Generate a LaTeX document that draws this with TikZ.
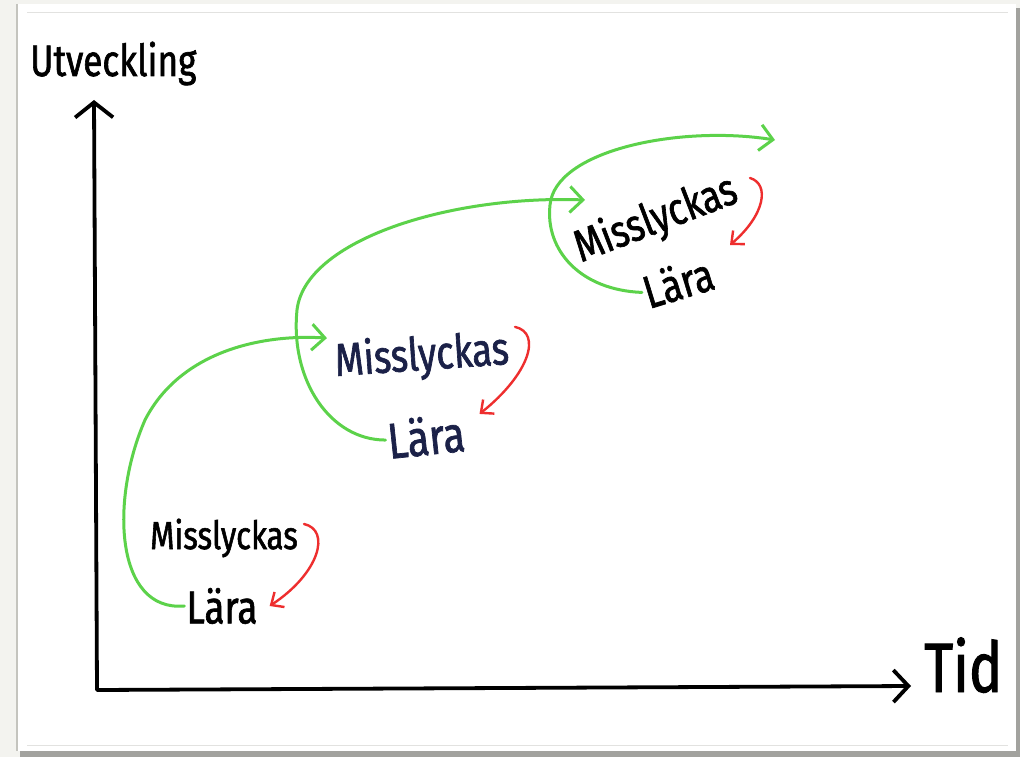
\documentclass[tikz,border=0pt]{standalone}
\usepackage{fontspec}
\setmainfont{Fira Sans}
\newfontfamily\hand[FakeBold=1.4,FakeStretch=0.8]{Fira Sans}
\usetikzlibrary{arrows.meta}
\definecolor{bgc}{HTML}{F3F3EF}
\definecolor{edgec}{HTML}{C4C4BE}
\definecolor{shadowc}{HTML}{A2A29E}
\definecolor{rulec}{HTML}{E2E2E0}
\definecolor{grn}{HTML}{5CD24A}
\definecolor{rd}{HTML}{EE2E2E}
\definecolor{navy}{HTML}{1B2148}
\tikzset{
  axisline/.style={line width=3.8pt, line cap=round, line join=round, black,
    {Straight Barb[length=15pt,width=38pt,line width=3.8pt]}-{Straight Barb[length=15pt,width=32pt,line width=3.8pt]}},
  growline/.style={line width=3pt, grn, line cap=round,
    -{Straight Barb[length=13pt,width=26pt,line width=3pt]}},
  failline/.style={line width=2.4pt, rd, line cap=round,
    -{Straight Barb[length=10pt,width=18pt,line width=2.4pt]}},
  word/.style={inner sep=0pt, font=\hand\fontsize{39}{42}\selectfont},
  lara/.style={inner sep=0pt, font=\hand\fontsize{46}{50}\selectfont},
  lbl/.style={inner sep=0pt, font=\hand}
}
\begin{document}
\begin{tikzpicture}[x=1pt,y=-1pt]
\useasboundingbox (0,0) rectangle (1020,757);
% frame
\fill[bgc] (0,0) rectangle (1020,757);
\fill[shadowc] (20,8) rectangle (1020,757);
\fill[white] (17,4) rectangle (1016,751);
\draw[edgec, line width=1.2pt] (17,4) -- (17,751);
\draw[rulec, line width=1pt] (27,13) -- (1008,13);
\draw[rulec, line width=1pt] (27,745) -- (1008,745);

% axes
\coordinate (O) at (97,690);
\coordinate (Ytip) at (94,100);
\coordinate (Xtip) at (911,686);
\draw[axisline] (Ytip) -- (O) -- (Xtip);
\node[lbl, anchor=base west, font=\hand\fontsize{44}{48}\selectfont] (ylab) at (30,76) {Utveckling};
\node[lbl, anchor=base west, font=\hand\fontsize{70}{74}\selectfont] (xlab) at (924,692) {Tid};

% group 1
\node[word] (m1) at (224,538) {Misslyckas};
\node[lara] (l1) at (222,606) {Lära};
% group 2
\node[word, navy, rotate=4, font=\hand\fontsize{46}{50}\selectfont] (m2) at (422,357) {Misslyckas};
\node[lara, navy, rotate=6, font=\hand\fontsize{50}{54}\selectfont] (l2) at (426,436) {Lära};
% group 3
\node[word, rotate=21, font=\hand\fontsize{45}{48}\selectfont] (m3) at (656,220) {Misslyckas};
\node[lara, rotate=17] (l3) at (678,282) {Lära};

% red: fail -> learn
\draw[failline] ([xshift=6pt,yshift=14pt]m1.east) .. controls +(27,6) and +(50,-33) .. ([xshift=12pt]l1.east);
\draw[failline] ([xshift=6pt,yshift=24pt]m2.east) .. controls +(27,6) and +(50,-40) .. ([xshift=15pt,yshift=18pt]l2.east);
\draw[failline] (750,178) .. controls +(20,6) and +(35,-30) .. (730,245);

% green: learn -> next fail
\draw[growline] ([xshift=-2pt]l1.west) .. controls (115,612) and (110,500) .. (145,420)
  .. controls (180,352) and (260,334) .. ([xshift=-8pt,yshift=25pt]m2.west);
\draw[growline] ([xshift=-2pt]l2.west) .. controls (330,440) and (290,380) .. (297,310)
  .. controls (305,240) and (450,195) .. (585,200);
\draw[growline] ([xshift=-2pt]l3.west) .. controls (580,290) and (545,250) .. (550,205)
  .. controls (555,150) and (680,125) .. (775,140);
\end{tikzpicture}
\end{document}
